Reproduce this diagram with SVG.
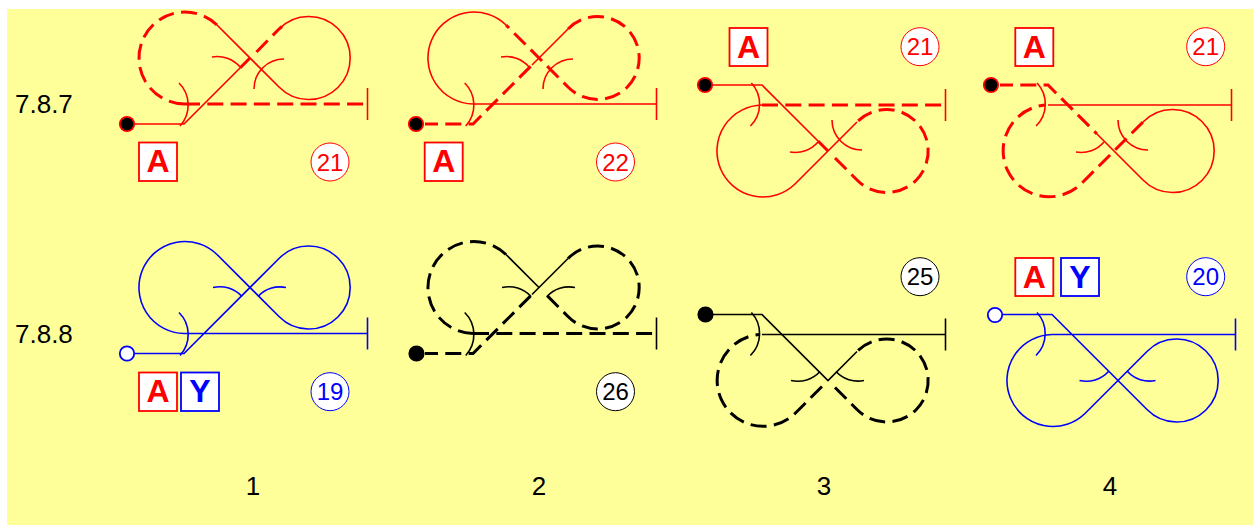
<svg xmlns="http://www.w3.org/2000/svg" width="1253" height="525" viewBox="0 0 1253 525">
<style>
text{font-family:"Liberation Sans",Arial,sans-serif}
.lab{font-size:26px;fill:#000}
.r{stroke:#f00;color:#f00}.b{stroke:#00f;color:#00f}.k{stroke:#000;color:#000}
.p path{fill:none}
.t{stroke-width:1.6}
.h{stroke-width:3}
.d{stroke-width:3;stroke-dasharray:16 7.3}
.o{stroke-dashoffset:3}
.box{fill:#fff;stroke-width:1.8}
.bt{font-size:32px;font-weight:bold;text-anchor:middle;stroke:none}
.num{fill:#fff;stroke-width:1}
.nt{font-size:24px;text-anchor:middle;stroke:none}
.dot{stroke-width:1.8}
</style>
<defs>
<path id="term" fill="none" d="M367.5,88V120"/>
<path id="tickA" fill="none" d="M179,83A31,31 0 0 1 180,126"/>
<path id="tickB" fill="none" d="M212,57A30,30 0 0 1 240,67"/>
<path id="tickC" fill="none" d="M284,59A30,30 0 0 0 254,89"/>
<path id="tickBs" fill="none" d="M213,58A30,30 0 0 1 242,67"/>
<path id="tickCs" fill="none" d="M286,58A30,30 0 0 0 258,67"/>
</defs>
<rect x="7" y="9" width="1246" height="516" fill="#ffff99"/>
<g id="labels">
<text class="lab" x="15" y="113">7.8.7</text>
<text class="lab" x="15" y="342.5">7.8.8</text>
<text class="lab" x="253" y="495" text-anchor="middle">1</text>
<text class="lab" x="539" y="495" text-anchor="middle">2</text>
<text class="lab" x="824" y="495" text-anchor="middle">3</text>
<text class="lab" x="1110" y="495" text-anchor="middle">4</text>
</g>
<g id="connectors">
<g id="c-787-1" class="p r">
<path class="t" d="M127,124H184L240,68"/><path class="h" d="M240,68L250,58"/>
<path class="d" d="M256.5,52L279,29L282,26.5"/>
<path class="t" d="M279,29A41.5,41.5 0 1 1 279,87L217,25"/>
<path class="d" d="M217,25A46,46 0 1 0 184,104"/><path class="d" d="M184,104H367.5"/>
<use href="#term" class="t"/><use href="#tickA" class="t"/><use href="#tickB" class="t"/><use href="#tickC" class="t"/>
</g>
<g id="c-787-2" class="p r" transform="translate(289,0)">
<path class="d o" d="M136,124H184L243,65"/>
<path class="t" d="M243,65L279,29"/>
<path class="d" d="M279,29A41.5,41.5 0 1 1 279,87L217,25"/>
<path class="t" d="M217,25A46,46 0 1 0 184,104H367.5"/>
<use href="#term" class="t"/><use href="#tickA" class="t" x="-3.3"/><use href="#tickB" class="t"/><use href="#tickC" class="t"/>
</g>
<g id="c-787-3" class="p r" transform="translate(578,209) scale(1,-1)">
<path class="t" d="M127,124H184L240,68"/><path class="h" d="M240,68L250,58"/>
<path class="d" d="M257,51L279,29A41.5,41.5 0 1 1 279,87"/>
<path class="t" d="M279,87L217,25A46,46 0 1 0 184,104"/>
<path class="d" d="M184,104H367.5"/>
<use href="#term" class="t"/><use href="#tickA" class="t" x="-6.6"/><use href="#tickB" class="t"/><use href="#tickC" class="t"/>
</g>
<g id="c-787-4" class="p r" transform="translate(864,209) scale(1,-1)">
<path class="d o" d="M136,124H184L233,75"/>
<path class="t" d="M233,75L279,29A41.5,41.5 0 1 1 279,87"/>
<path class="d" d="M279,87L217,25A46,46 0 1 0 181,104"/>
<path class="t" d="M184,104H367.5"/>
<use href="#term" class="t"/><use href="#tickA" class="t" x="-6.9"/><use href="#tickB" class="t"/><use href="#tickC" class="t"/>
</g>
<g id="c-788-1" class="p b" transform="translate(0,229.5)">
<path class="t" d="M127,124H184L279,29A41.5,41.5 0 1 1 279,87L217,25A46,46 0 1 0 184,104H367.5"/>
<use href="#term" class="t"/><use href="#tickA" class="t"/><use href="#tickBs" class="t"/><use href="#tickCs" class="t"/>
</g>
<g id="c-788-2" class="p k" transform="translate(289,229.5)">
<path class="d o" d="M136,124H184L243,65"/>
<path class="t" d="M243,65L279,29"/>
<path class="d" d="M279,29A41.5,41.5 0 1 1 279,87L258,66"/>
<path class="t" d="M250,58L217,25"/>
<path class="d" d="M217,25A46,46 0 1 0 184,104"/><path class="d" d="M184,104H367.5"/>
<use href="#term" class="t"/><use href="#tickA" class="t" x="-3.3"/><use href="#tickBs" class="t"/><use href="#tickCs" class="t"/>
</g>
<g id="c-788-3" class="p k" transform="translate(578,438.5) scale(1,-1)">
<path class="t" d="M127,124H184L250,58L279,87"/>
<path class="d" d="M257,51L279,29A41.5,41.5 0 1 1 279,87"/>
<path class="d" d="M244,52L217,25A46,46 0 1 0 181,104"/>
<path class="t" d="M184,104H367.5"/>
<use href="#term" class="t"/><use href="#tickA" class="t" x="-6.6"/><use href="#tickBs" class="t"/><use href="#tickCs" class="t"/>
</g>
<g id="c-788-4" class="p b" transform="translate(868,438.5) scale(1,-1)">
<path class="t" d="M127,124H184L279,29A41.5,41.5 0 1 1 279,87L217,25A46,46 0 1 0 184,104H367.5"/>
<use href="#term" class="t"/><use href="#tickA" class="t" x="-11"/><use href="#tickBs" class="t" x="-1.5"/><use href="#tickCs" class="t" x="1.5"/>
</g>
</g>
<g id="dots">
<g id="dot-787-1"><circle class="dot r" cx="127" cy="124" r="7.2" fill="#000"/></g>
<g id="dot-787-2"><circle class="dot r" cx="416" cy="124" r="7.2" fill="#000"/></g>
<g id="dot-787-3"><circle class="dot r" cx="705" cy="85" r="7.2" fill="#000"/></g>
<g id="dot-787-4"><circle class="dot r" cx="991" cy="85" r="7.2" fill="#000"/></g>
<g id="dot-788-1"><circle class="dot b" cx="127" cy="353.5" r="7.2" fill="#fff"/></g>
<g id="dot-788-2"><circle class="dot k" cx="416.5" cy="353.5" r="7.2" fill="#000"/></g>
<g id="dot-788-3"><circle class="dot k" cx="705.5" cy="314.5" r="7.2" fill="#000"/></g>
<g id="dot-788-4"><circle class="dot b" cx="995" cy="315" r="7.2" fill="#fff"/></g>
</g>
<g id="box-787-1" class="r"><rect class="box" x="139" y="142.5" width="38" height="38.5"/><text class="bt" x="158" y="172" fill="#f00">A</text></g>
<g id="num-787-1" class="r"><circle class="num" cx="330" cy="162" r="19"/><text class="nt" x="330" y="170.5" fill="#f00">21</text></g>
<g id="box-787-2" class="r"><rect class="box" x="424.7" y="142.5" width="38" height="38.5"/><text class="bt" x="443.7" y="172" fill="#f00">A</text></g>
<g id="num-787-2" class="r"><circle class="num" cx="615.5" cy="162" r="19"/><text class="nt" x="615.5" y="170.5" fill="#f00">22</text></g>
<g id="box-787-3" class="r"><rect class="box" x="729.5" y="28" width="38" height="38"/><text class="bt" x="748.5" y="57.5" fill="#f00">A</text></g>
<g id="num-787-3" class="r"><circle class="num" cx="920" cy="46.7" r="19"/><text class="nt" x="920" y="55.2" fill="#f00">21</text></g>
<g id="box-787-4" class="r"><rect class="box" x="1015.3" y="28" width="38" height="38"/><text class="bt" x="1034.3" y="57.5" fill="#f00">A</text></g>
<g id="num-787-4" class="r"><circle class="num" cx="1205.7" cy="46.7" r="19"/><text class="nt" x="1205.7" y="55.2" fill="#f00">21</text></g>
<g id="box-788-1a" class="r"><rect class="box" x="139" y="372.5" width="38" height="38.5"/><text class="bt" x="158" y="402" fill="#f00">A</text></g>
<g id="box-788-1y" class="b"><rect class="box" x="181" y="372.5" width="38" height="38.5"/><text class="bt" x="200" y="402" fill="#00f">Y</text></g>
<g id="num-788-1" class="b"><circle class="num" cx="330" cy="391.7" r="19"/><text class="nt" x="330" y="400.2" fill="#00f">19</text></g>
<g id="num-788-2" class="k"><circle class="num" cx="615.5" cy="391.7" r="19"/><text class="nt" x="615.5" y="400.2" fill="#000">26</text></g>
<g id="num-788-3" class="k"><circle class="num" cx="920" cy="276.7" r="19"/><text class="nt" x="920" y="285.2" fill="#000">25</text></g>
<g id="box-788-4a" class="r"><rect class="box" x="1015.3" y="258" width="38" height="38"/><text class="bt" x="1034.3" y="287.5" fill="#f00">A</text></g>
<g id="box-788-4y" class="b"><rect class="box" x="1061" y="258" width="38" height="38"/><text class="bt" x="1080" y="287.5" fill="#00f">Y</text></g>
<g id="num-788-4" class="b"><circle class="num" cx="1205.7" cy="276.7" r="19"/><text class="nt" x="1205.7" y="285.2" fill="#00f">20</text></g>
</svg>
